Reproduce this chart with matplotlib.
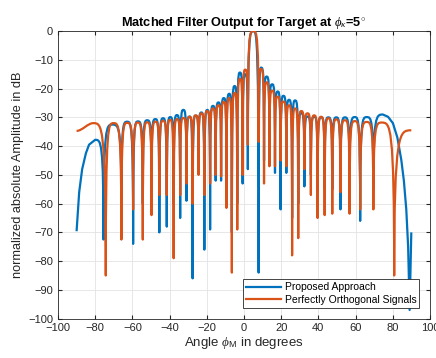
import matplotlib.pyplot as plt
from matplotlib.path import Path
from matplotlib.patches import PathPatch
from matplotlib.lines import Line2D

plt.rcParams['font.family'] = ['Liberation Sans', 'DejaVu Sans']
plt.rcParams['mathtext.fontset'] = 'custom'
plt.rcParams['mathtext.it'] = 'Liberation Serif:italic'
plt.rcParams['mathtext.rm'] = 'Liberation Sans'

# Key points, alternating lobe peak / null (angle in deg, level in dB)
# Proposed approach: lobes from the peak at -80 deg to the peak at 74.7 deg
prop_angle = [-80.0, -75.5, -70.7, -65.9, -62.8, -59.6, -57.0, -54.4, -52.0,
              -49.7, -47.6, -45.5, -43.5, -41.5, -39.6, -37.8, -36.0, -34.3, -32.6,
              -30.9, -29.2, -27.6, -26.0, -24.4, -22.8, -21.3, -19.7, -18.2, -16.7,
              -15.2, -13.7, -12.3, -10.8, -9.4, -7.9, -6.5, -5.0, -3.6, -2.15,
              -0.7, 0.7, 2.1, 5.0, 7.9, 9.3, 10.8, 12.2, 13.7, 15.2,
              16.7, 18.2, 19.7, 21.2, 22.8, 24.3, 25.9, 27.5, 29.2, 30.8,
              32.5, 34.2, 36.0, 37.8, 39.6, 41.5, 43.4, 45.4, 47.5, 49.7,
              51.9, 54.3, 56.8, 59.6, 62.5, 66.0, 69.6, 74.7]
prop_db = [-37.8, -72.5, -32.5, -60, -31.5, -74, -31.4, -60, -31.0,
           -55, -30.6, -70, -30.3, -68, -29.9, -60, -29.2, -65, -27.4,
           -59, -29.7, -86, -29.4, -45, -28.3, -76, -27.4, -69, -26.0,
           -52, -24.8, -52, -23.3, -55, -21.8, -70, -19.1, -60, -14.4,
           -53, -15.0, -48, 0, -84, -12.7, -45, -15.8, -42, -18.5,
           -49.3, -21.0, -62, -22.5, -49.3, -23.9, -65, -24.1, -60, -28.5,
           -54, -29.7, -50, -29.8, -55, -30.0, -55, -30.0, -55, -30.0,
           -62, -30.0, -55, -29.9, -66, -29.9, -55, -29.0]
# its two stretched end pieces near +-90 deg
prop_lead_angle = [-90.0, -88.6, -87.0, -85.0, -83.3, -80.0]
prop_lead_db = [-69.6, -56.0, -48.0, -42.5, -39.5, -37.8]
prop_tail_angle = [74.7, 77.5, 80.1, 82.5, 84.6, 86.0, 87.3, 88.3, 89.1, 90.0]
prop_tail_db = [-29.0, -29.8, -32.0, -37.0, -44.7, -52.0, -62.0, -75.0, -97.0, -70.0]

# Perfectly orthogonal signals: starts at -90 deg, then peak, null, peak ...
orth_angle = [-90, -81.0, -74.3, -70.1, -65.9, -62.8, -59.6, -57.0, -54.4, -52.0,
              -49.7, -47.6, -45.5, -43.5, -41.5, -39.6, -37.8, -36.0, -34.3, -32.6,
              -30.9, -29.2, -27.6, -26.0, -24.4, -22.8, -21.3, -19.7, -18.2, -16.7,
              -15.2, -13.7, -12.3, -10.8, -9.4, -7.9, -6.5, -5.0, -3.6, -2.15,
              -0.7, 0.7, 2.1, 5.0, 7.9, 9.3, 10.8, 12.2, 13.7, 15.2,
              16.7, 18.2, 19.7, 21.2, 22.8, 24.3, 25.9, 27.5, 29.2, 30.8,
              32.5, 34.2, 36.0, 37.8, 39.6, 41.5, 43.4, 45.4, 47.5, 49.7,
              51.9, 54.3, 56.8, 59.6, 62.5, 66.0, 69.6, 74.0, 80.8, 90]
orth_db = [-34.7, -32.0, -85, -32.0, -72.5, -31.9, -62, -31.8, -72.5, -31.7,
           -64, -31.5, -57, -31.2, -57, -30.9, -79, -30.6, -57, -30.2,
           -53, -29.8, -60, -29.3, -50, -28.6, -57, -27.8, -53, -26.9,
           -50, -25.8, -50.5, -24.6, -61.5, -23.3, -84, -21.5, -69, -16.6,
           -50, -13.4, -39.5, 0, -38.5, -13.2, -53, -17.8, -47, -20.7,
           -47, -22.8, -45, -24.5, -47, -25.8, -78, -26.9, -72, -27.8,
           -48, -28.6, -57, -29.3, -65, -29.8, -64, -30.3, -63.5, -30.7,
           -56, -31.0, -63.5, -31.3, -62, -31.6, -62, -31.8, -85, -34.5]

labels = ['Proposed Approach', 'Perfectly Orthogonal Signals']
colors = ['#0072BD', '#D95319']


def lobe_path(ang, db, first_is_null, lead=None, tail=None):
    # smooth arches between the nulls and lobe peaks, optional straight end pieces
    verts, codes = [], []
    if lead:
        verts += list(zip(*lead))
        codes += [Path.MOVETO] + [Path.LINETO] * (len(lead[0]) - 1)
    else:
        verts.append((ang[0], db[0]))
        codes.append(Path.MOVETO)
    for i in range(len(ang) - 1):
        x0, y0, x1, y1 = ang[i], db[i], ang[i + 1], db[i + 1]
        w = x1 - x0
        rising = (i % 2 == 0) == first_is_null
        if abs(y1 - y0) < 5:
            c1, c2 = (x0 + w / 3, y0), (x0 + 2 * w / 3, y1)
        elif rising:
            c1, c2 = (x0, y1), (x0 + 0.3 * w, y1)
        else:
            c1, c2 = (x1 - 0.3 * w, y0), (x1, y0)
        verts += [c1, c2, (x1, y1)]
        codes += [Path.CURVE4] * 3
    if tail:
        verts += list(zip(*tail))[1:]
        codes += [Path.LINETO] * (len(tail[0]) - 1)
    return Path(verts, codes)


fig = plt.figure(figsize=(4.36, 3.58), dpi=100)
ax = fig.add_axes([0.133, 0.110, 0.853, 0.803])

prop_path = lobe_path(prop_angle, prop_db, False,
                      (prop_lead_angle, prop_lead_db), (prop_tail_angle, prop_tail_db))
orth_path = lobe_path(orth_angle, orth_db, True)
ax.add_patch(PathPatch(prop_path, fill=False, edgecolor=colors[0], lw=1.6,
                       joinstyle='round', zorder=2))
ax.add_patch(PathPatch(orth_path, fill=False, edgecolor=colors[1], lw=1.6,
                       joinstyle='round', zorder=3))

ax.set_xlim(-100, 100)
ax.set_ylim(-100, 0)
ax.set_xticks(range(-100, 101, 20))
ax.set_yticks(range(-100, 1, 10))
ax.grid(True, color='#e3e3e3', lw=0.6)
ax.set_axisbelow(True)
ax.tick_params(direction='in', top=True, right=True, labelsize=8, colors='#262626', length=3)
for s in ax.spines.values():
    s.set_color('#262626')
    s.set_linewidth(0.6)

ax.set_title(r'Matched Filter Output for Target at $\phi_{\kappa}$=5$^{\circ}$',
             fontsize=9.2, fontweight='bold', pad=4)
ax.set_xlabel(r'Angle $\phi_{\rm M}$ in degrees', fontsize=9.5, color='#262626', labelpad=1)
ax.set_ylabel('normalized absolute Amplitude in dB', fontsize=9.2, color='#262626', labelpad=3)

handles = [Line2D([], [], color=c, lw=1.6) for c in colors]
leg = ax.legend(handles, labels, loc='lower right', fontsize=7.5, fancybox=False,
                framealpha=1, edgecolor='#262626', borderaxespad=1.0, handlelength=3.4,
                handletextpad=0.3, borderpad=0.3, labelspacing=0.25)
leg.get_frame().set_linewidth(0.6)

fig.savefig('out.png', dpi=100)
